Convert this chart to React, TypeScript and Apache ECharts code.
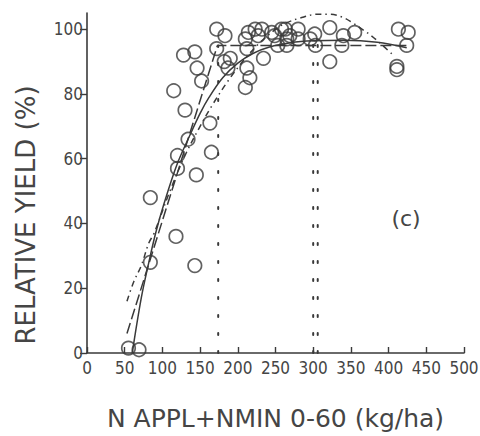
import React, { useEffect, useRef } from "react";
import * as echarts from "echarts";

// Observed relative yield (%) against applied N + soil mineral N (kg/ha)
const nRate = [
  55, 69, 84, 84, 118, 143, 120, 120, 134, 145, 165, 163, 115, 130, 128, 143, 146, 152,
  172, 172, 183, 182, 190, 187, 212, 210, 216, 234, 214, 223, 227, 210, 232, 245, 249,
  258, 263, 269, 265, 280, 280, 296, 212, 253, 265, 302, 303, 322, 322, 340, 338, 355,
  413, 426, 424, 411, 411,
];
const relYield = [
  1.5, 1, 28, 48, 36, 27, 61, 57, 66, 55, 62, 71, 81, 75, 92, 93, 88, 84,
  100, 94, 98, 90, 91, 88, 88, 82, 85, 91, 99, 100, 98, 97, 100, 99, 98,
  100, 100, 98, 97, 100, 97, 97, 94, 95, 95, 98.5, 95, 100.5, 90, 98, 95, 99,
  100, 99, 95, 88.5, 87.5,
];

// Linear-plateau fit (long dashes)
const linPlatN = [53, 173, 425];
const linPlatY = [6, 95, 95];

// Curvilinear fit (solid)
const curveN = [60, 72, 82, 91, 102, 119, 136, 150, 162, 180, 200, 220, 242, 270, 300, 340, 385, 424];
const curveY = [0, 17, 28, 37, 46, 58, 67, 74, 79, 85, 89.5, 92.5, 94.5, 95.8, 96.4, 96.6, 96, 94.3];

// Quadratic fit (dash-dot)
const quadN = [53, 62, 72, 82, 89, 110, 130, 150, 166, 187, 210, 230, 252, 265, 282, 305, 322, 339, 352, 368, 377, 392, 406];
const quadY = [16, 22, 27, 34, 37, 50, 61, 70, 76.5, 84, 91, 96, 100.3, 102, 103.4, 104.6, 104.6, 103.7, 102, 99.5, 98, 95, 92];

// Economic optimum N rates (vertical dotted markers) and their heights
const optN = [174, 300, 306];
const optTop = [95, 96, 96];

const yTicks = [0, 20, 40, 60, 80, 100];
const panelLabel = "(c)";

const zip = (xs: number[], ys: number[]) => xs.map((x, i) => [x, ys[i]]);

export default function App() {
  const ref = useRef<HTMLDivElement>(null);

  useEffect(() => {
    if (!ref.current) return;
    const chart = echarts.init(ref.current, null, { renderer: "svg" });
    const ink = "#3a3a3a";
    const textInk = "#454545";
    const tickFont = "'Liberation Sans Narrow', 'DejaVu Sans Condensed', 'Roboto', sans-serif";
    const titleFont = "'DejaVu Sans', sans-serif";

    const optSeries = optN.map((x, i) => ({
      type: "line",
      data: [
        [x, 0],
        [x, optTop[i]],
      ],
      symbol: "none",
      silent: true,
      lineStyle: { color: ink, width: 2, type: [2, 16], cap: "round" },
    }));

    chart.setOption({
      animation: false,
      backgroundColor: "#ffffff",
      grid: { left: 87, right: 16, top: 13, bottom: 83, outerBoundsMode: "none" },
      xAxis: {
        type: "value",
        min: 0,
        max: 500,
        interval: 50,
        name: "N APPL+NMIN 0-60 (kg/ha)",
        nameLocation: "middle",
        nameGap: 53,
        nameTextStyle: { fontFamily: titleFont, fontSize: 25, color: textInk },
        axisLine: { onZero: false, lineStyle: { color: ink, width: 1.6 } },
        axisTick: { inside: true, length: 6, lineStyle: { color: ink, width: 1.4 } },
        axisLabel: { color: textInk, fontFamily: tickFont, fontSize: 17, margin: 6 },
        splitLine: { show: false },
      },
      yAxis: {
        type: "value",
        min: 0,
        max: 105,
        name: "RELATIVE YIELD (%)",
        nameLocation: "middle",
        nameGap: 48,
        nameTextStyle: { fontFamily: titleFont, fontSize: 26, color: textInk, padding: [0, 64, 0, 0] },
        axisLine: { lineStyle: { color: ink, width: 1.6 } },
        axisTick: { customValues: yTicks, length: 7, lineStyle: { color: ink, width: 1.4 } },
        axisLabel: { customValues: yTicks, color: textInk, fontFamily: tickFont, fontSize: 17, margin: 4 },
        splitLine: { show: false },
      },
      graphic: [
        {
          type: "text",
          x: 406,
          y: 218,
          style: {
            text: panelLabel,
            fontFamily: titleFont,
            fontSize: 22,
            fill: textInk,
            align: "center",
            verticalAlign: "middle",
          },
        },
      ],
      series: [
        ...optSeries,
        {
          type: "line",
          data: zip(linPlatN, linPlatY),
          symbol: "none",
          lineStyle: { color: ink, width: 1.5, type: [11, 4] },
        },
        {
          type: "line",
          data: zip(curveN, curveY),
          symbol: "none",
          smooth: 0.35,
          lineStyle: { color: ink, width: 1.5 },
        },
        {
          type: "line",
          data: zip(quadN, quadY),
          symbol: "none",
          smooth: 0.35,
          lineStyle: { color: ink, width: 1.5, type: [6, 4, 1.5, 4] },
        },
        {
          type: "scatter",
          data: zip(nRate, relYield),
          symbol: "circle",
          symbolSize: 13.5,
          itemStyle: { color: "rgba(255,255,255,0)", borderColor: ink, borderWidth: 1.7 },
        },
      ],
    });

    return () => chart.dispose();
  }, []);

  return (
    <div
      ref={ref}
      style={{ position: "fixed", left: 0, top: 0, width: 480, height: 436, background: "#fff" }}
    />
  );
}
